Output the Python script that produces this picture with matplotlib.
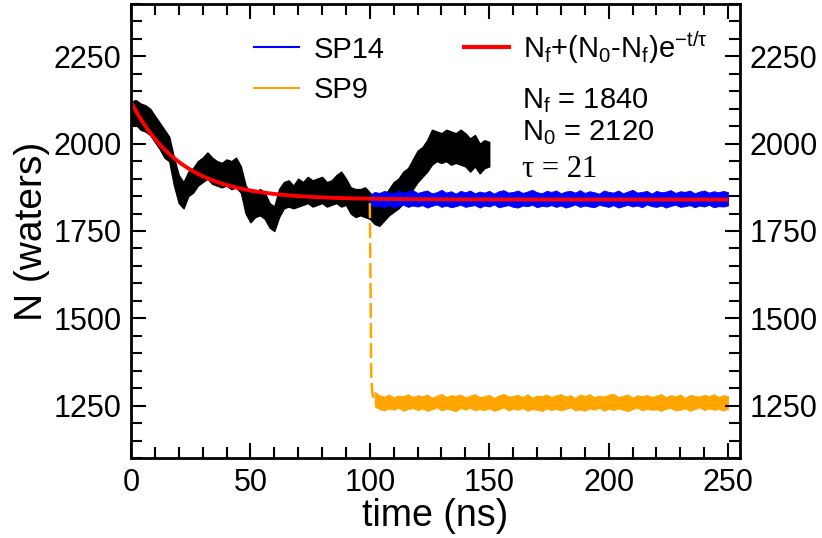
import numpy as np
import matplotlib
matplotlib.use("Agg")
import matplotlib.pyplot as plt
from matplotlib.lines import Line2D

plt.rcParams['font.family'] = ['Liberation Sans', 'DejaVu Sans']
plt.rcParams['mathtext.fontset'] = 'custom'
plt.rcParams['mathtext.rm'] = 'Liberation Sans'
plt.rcParams['mathtext.it'] = 'Liberation Sans:italic'
plt.rcParams['mathtext.bf'] = 'Liberation Sans:bold'

# ---------------- data ----------------
black_t = np.arange(0, 151, 2)
black_lo = [2050, 2055, 2040, 2035, 2025, 2005, 1985, 1960, 1950, 1880, 1830, 1815, 1850, 1860, 1880, 1890,
            1900, 1885, 1880, 1875, 1880, 1870, 1875, 1860, 1800, 1775, 1790, 1795, 1785, 1760, 1750, 1790,
            1815, 1820, 1815, 1820, 1825, 1830, 1820, 1825, 1830, 1820, 1825, 1830, 1820, 1825, 1800, 1790,
            1795, 1790, 1785, 1770, 1765, 1780, 1795, 1805, 1815, 1830, 1850, 1870, 1890, 1905, 1920, 1940,
            1950, 1945, 1950, 1940, 1945, 1940, 1935, 1920, 1935, 1915, 1930, 1935]
black_hi = [2120, 2125, 2115, 2110, 2100, 2080, 2060, 2040, 2020, 1960, 1910, 1890, 1920, 1930, 1950, 1960,
            1975, 1960, 1950, 1945, 1955, 1950, 1960, 1935, 1880, 1860, 1860, 1870, 1860, 1830, 1820, 1870,
            1890, 1895, 1880, 1900, 1890, 1905, 1895, 1900, 1905, 1890, 1895, 1910, 1920, 1900, 1875, 1870,
            1870, 1875, 1860, 1845, 1835, 1850, 1870, 1890, 1900, 1920, 1930, 1955, 1980, 1990, 2010, 2040,
            2035, 2030, 2040, 2035, 2030, 2040, 2030, 2015, 2025, 2000, 2010, 2005]

blue_t = np.arange(100, 251, 2)
blue_lo = [1826, 1820, 1823, 1818, 1824, 1817, 1821, 1825, 1819, 1823,
           1820, 1824, 1817, 1822, 1826, 1819, 1823, 1818, 1821, 1825,
           1819, 1822, 1824, 1817, 1823, 1820, 1826, 1818, 1821, 1824,
           1819, 1817, 1823, 1821, 1825, 1818, 1822, 1820, 1824, 1819,
           1823, 1817, 1821, 1826, 1819, 1823, 1820, 1818, 1825, 1822,
           1819, 1824, 1817, 1821, 1825, 1820, 1823, 1818, 1826, 1821,
           1819, 1823, 1817, 1822, 1825, 1819, 1821, 1824, 1818, 1823,
           1820, 1825, 1818, 1821, 1820, 1823]
blue_hi = [1852, 1862, 1859, 1865, 1861, 1858, 1866, 1860, 1863, 1867,
           1859, 1863, 1866, 1858, 1861, 1868, 1860, 1864, 1857, 1865,
           1861, 1866, 1858, 1863, 1860, 1865, 1857, 1864, 1867, 1860,
           1862, 1866, 1859, 1863, 1868, 1861, 1858, 1865, 1862, 1866,
           1858, 1863, 1865, 1860, 1867, 1859, 1864, 1861, 1857, 1866,
           1862, 1860, 1866, 1858, 1863, 1868, 1860, 1862, 1865, 1857,
           1865, 1861, 1863, 1867, 1859, 1864, 1862, 1866, 1858, 1863,
           1866, 1860, 1864, 1861, 1865, 1861]

orange_drop_t = [100.0, 100.3, 100.6, 101.0, 101.5]
orange_drop_n = [1830, 1600, 1330, 1290, 1270]
orange_t = np.arange(102, 251, 2)
orange_lo = [1248, 1240, 1236, 1242, 1238, 1244, 1235, 1240, 1243, 1237,
             1242, 1235, 1239, 1245, 1236, 1241, 1238, 1234, 1243, 1238,
             1244, 1236, 1240, 1237, 1242, 1235, 1239, 1245, 1236, 1241,
             1238, 1243, 1235, 1240, 1238, 1234, 1242, 1237, 1241, 1236,
             1240, 1245, 1236, 1239, 1235, 1242, 1238, 1244, 1235, 1241,
             1237, 1242, 1238, 1234, 1240, 1244, 1236, 1241, 1238, 1239,
             1235, 1241, 1243, 1236, 1238, 1242, 1235, 1240, 1245, 1237,
             1242, 1238, 1240, 1236, 1241]
orange_hi = [1290, 1280, 1276, 1282, 1274, 1279, 1277, 1283, 1275, 1280,
             1277, 1282, 1273, 1278, 1284, 1275, 1280, 1278, 1282, 1274,
             1279, 1283, 1275, 1277, 1281, 1272, 1279, 1284, 1276, 1278,
             1281, 1275, 1283, 1273, 1279, 1277, 1282, 1275, 1280, 1283,
             1276, 1280, 1272, 1282, 1278, 1283, 1274, 1279, 1276, 1281,
             1284, 1275, 1278, 1282, 1273, 1280, 1277, 1281, 1275, 1279,
             1283, 1274, 1280, 1277, 1282, 1272, 1281, 1278, 1276, 1281,
             1277, 1283, 1275, 1280, 1277]

# exponential fit parameters shown in the chart
fit_Nf = 1840
fit_N0 = 2120
fit_tau = 21
fit_t = np.linspace(0, 250, 600)
fit_n = fit_Nf + (fit_N0 - fit_Nf) * np.exp(-fit_t / fit_tau)

x_ticks = [0, 50, 100, 150, 200, 250]
y_ticks = [1250, 1500, 1750, 2000, 2250]

# ---------------- figure ----------------
fig = plt.figure(figsize=(8.22, 5.38), dpi=100)
ax = fig.add_axes([131 / 822, 80 / 538, 609 / 822, 454 / 538])

BLUE = '#0000ff'
ORANGE = '#ffa500'
RED = '#ff0000'

ax.fill_between(black_t, black_lo, black_hi, color='black', lw=1.0, edgecolor='black')
ax.fill_between(blue_t, blue_lo, blue_hi, color=BLUE, lw=0.6, edgecolor=BLUE)
ax.plot(orange_drop_t, orange_drop_n, color=ORANGE, lw=1.8, dashes=(6, 2))
ax.fill_between(orange_t, orange_lo, orange_hi, color=ORANGE, lw=0.6, edgecolor=ORANGE)
ax.plot(fit_t, fit_n, color=RED, lw=2.8, solid_capstyle='butt')

ax.set_xlim(0, 255)
ax.set_ylim(1100, 2400)
ax.set_xticks(x_ticks)
ax.set_yticks(y_ticks)
ax.set_xticks(np.arange(0, 256, 10), minor=True)
ax.set_yticks(np.arange(1100, 2401, 50), minor=True)

ax.tick_params(which='both', direction='in', top=True, right=True, labelright=True,
               width=1.5, labelsize=22)
ax.tick_params(which='major', length=11, pad=7)
ax.tick_params(which='minor', length=8)
for s in ax.spines.values():
    s.set_linewidth(2.0)

ax.set_xlabel('time (ns)', fontsize=27, labelpad=0)
ax.set_ylabel('N (waters)', fontsize=28, labelpad=2)

handles = [Line2D([], [], color=BLUE, lw=1.5),
           Line2D([], [], color=ORANGE, lw=1.5),
           Line2D([], [], color=RED, lw=3)]
labels = ['SP14', 'SP9', r'N$_\mathrm{f}$+(N$_\mathrm{0}$-N$_\mathrm{f}$)e$^{\mathrm{-t/\tau}}$']
ax.legend(handles, labels, ncol=2, loc='upper left', bbox_to_anchor=(0.202, 0.945),
          frameon=False, fontsize=21, handlelength=1.55, handletextpad=0.5,
          columnspacing=2.7, labelspacing=0.42, borderpad=0, borderaxespad=0)

ax.text(0.642, 0.770, r'N$_\mathrm{f}$ = 1840', transform=ax.transAxes, fontsize=21, va='baseline')
ax.text(0.642, 0.700, r'N$_\mathrm{0}$ = 2120', transform=ax.transAxes, fontsize=21, va='baseline')
ax.text(0.642, 0.620, 'τ = 21', transform=ax.transAxes, fontsize=22, va='baseline',
        family=['Liberation Serif', 'DejaVu Serif'])

fig.savefig('out.png', dpi=100)
